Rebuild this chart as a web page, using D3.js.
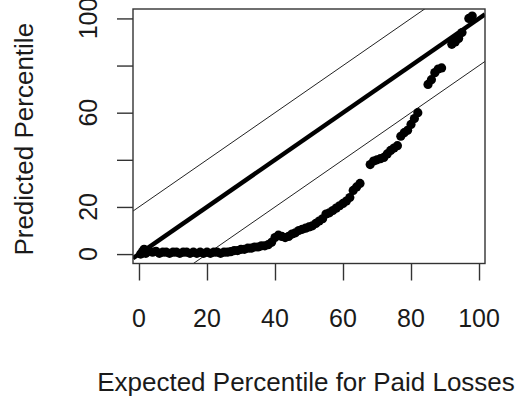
<!DOCTYPE html>
<html>
<head>
<meta charset="utf-8">
<script src="https://cdn.jsdelivr.net/npm/d3@7"></script>
<style>
  body { margin: 0; background: #fff; }
  svg { display: block; font-family: "Liberation Sans", Arial, sans-serif; }
</style>
</head>
<body>
<div id="chart"></div>
<script>
// expected vs predicted percentiles
const expected = [0.5, 1, 1.5, 2, 3, 4, 5, 6, 7, 8, 9, 10, 11, 12, 13, 14, 15, 16, 17, 18,
  19, 20, 21, 22, 23, 24, 25, 26, 27, 28, 29, 30, 31, 32, 33, 34, 35, 36, 37, 38,
  39, 40, 41, 42, 43, 44, 45, 46, 47, 48, 49, 50, 51, 52, 53, 54, 55, 56, 57, 58,
  59, 60, 61, 62, 63, 64, 65, 68, 69, 70, 71, 72, 73, 74, 75, 76, 77, 78, 79, 80,
  81, 82, 85, 86, 87, 88, 89, 92, 93, 94, 95, 97, 98];
const predicted = [0, 1, 2, 0.3, 1.2, 0.8, 1.2, 0.3, 0.8, 0.8, 0.3, 0.8, 0.8, 0.3, 0.8, 0.8, 0.3, 0.8, 0.3, 0.8,
  0.3, 0.8, 0.3, 0.8, 0.8, 0.3, 0.8, 0.8, 1, 1.5, 1.5, 2, 2, 2.5, 2.5, 3, 3, 3.5, 3.5, 4,
  5, 7, 8, 7.5, 7, 7.5, 8.5, 9, 10, 10.5, 11, 11.5, 12, 13, 14, 15, 17, 17.5, 18.5, 19.5,
  20.5, 21.5, 22.5, 24, 27, 28.5, 30, 38, 39.5, 40, 40.5, 41, 42.5, 44, 45, 46, 50, 51.5, 52.5, 55,
  57.5, 60, 72, 74, 77, 78.5, 79, 89, 90, 91.5, 94, 100, 101];

const xTicks = [0, 20, 40, 60, 80, 100];
const yTicks = [0, 20, 40, 60, 80, 100];
const yTickLabels = [0, 20, 60, 100];   // R drops 40 and 80 (overlap)
const refIntercepts = [20, -20];         // thin band lines y = x +/- 20

const width = 520, height = 398;
const box = {left: 133, right: 485, top: 9, bottom: 263.5};
const ink = "#1a1a1a";

const svg = d3.select("#chart").append("svg")
  .attr("width", width)
  .attr("height", height);

const x = d3.scaleLinear().domain([-1.76, 101.76]).range([box.left, box.right]);
const y = d3.scaleLinear().domain([-4, 104]).range([box.bottom, box.top]);

svg.append("clipPath").attr("id", "plot-clip")
  .append("rect")
  .attr("x", box.left).attr("y", box.top)
  .attr("width", box.right - box.left).attr("height", box.bottom - box.top);

const plot = svg.append("g").attr("clip-path", "url(#plot-clip)");

// thin reference lines
const xd = x.domain();
refIntercepts.forEach(c => {
  plot.append("line")
    .attr("x1", x(xd[0])).attr("y1", y(xd[0] + c))
    .attr("x2", x(xd[1])).attr("y2", y(xd[1] + c))
    .attr("stroke", "#222")
    .attr("stroke-width", 1);
});

// thick identity line
plot.append("line")
  .attr("x1", x(xd[0])).attr("y1", y(xd[0]))
  .attr("x2", x(xd[1])).attr("y2", y(xd[1]))
  .attr("stroke", "#000")
  .attr("stroke-width", 4.5);

// points
plot.selectAll("circle.pt")
  .data(expected.map((e, i) => ({e: e, p: predicted[i]})))
  .join("circle")
  .attr("class", "pt")
  .attr("cx", d => x(d.e))
  .attr("cy", d => y(d.p))
  .attr("r", 4.6)
  .attr("fill", "#000");

// axes
const xAxis = svg.append("g")
  .attr("transform", `translate(0,${box.bottom})`)
  .call(d3.axisBottom(x).tickValues(xTicks).tickSize(17).tickFormat(""))
  .call(g => g.select(".domain").remove());
xAxis.selectAll(".tick line").attr("stroke", "#333").attr("stroke-width", 1.4);

svg.append("g").selectAll("text")
  .data(xTicks)
  .join("text")
  .attr("x", d => x(d))
  .attr("y", 327)
  .attr("text-anchor", "middle")
  .style("font-size", "25px")
  .attr("fill", ink)
  .text(d => d);

const yAxis = svg.append("g")
  .attr("transform", `translate(${box.left},0)`)
  .call(d3.axisLeft(y).tickValues(yTicks).tickSize(16).tickFormat(""))
  .call(g => g.select(".domain").remove());
yAxis.selectAll(".tick line").attr("stroke", "#333").attr("stroke-width", 1.4);

svg.append("g").selectAll("text")
  .data(yTickLabels)
  .join("text")
  .attr("transform", d => `translate(97,${y(d)}) rotate(-90)`)
  .attr("text-anchor", "middle")
  .style("font-size", "25px")
  .attr("fill", ink)
  .text(d => d);

// box
svg.append("rect")
  .attr("x", box.left).attr("y", box.top)
  .attr("width", box.right - box.left).attr("height", box.bottom - box.top)
  .attr("fill", "none")
  .attr("stroke", "#333")
  .attr("stroke-width", 1.4);

// axis titles
svg.append("text")
  .attr("x", (box.left + box.right) / 2 - 3)
  .attr("y", 391)
  .attr("text-anchor", "middle")
  .style("font-size", "26px")
  .attr("fill", ink)
  .text("Expected Percentile for Paid Losses");

svg.append("text")
  .attr("transform", `translate(33,${(box.top + box.bottom) / 2 + 3}) rotate(-90)`)
  .attr("text-anchor", "middle")
  .style("font-size", "26px")
  .attr("fill", ink)
  .text("Predicted Percentile");
</script>
</body>
</html>
